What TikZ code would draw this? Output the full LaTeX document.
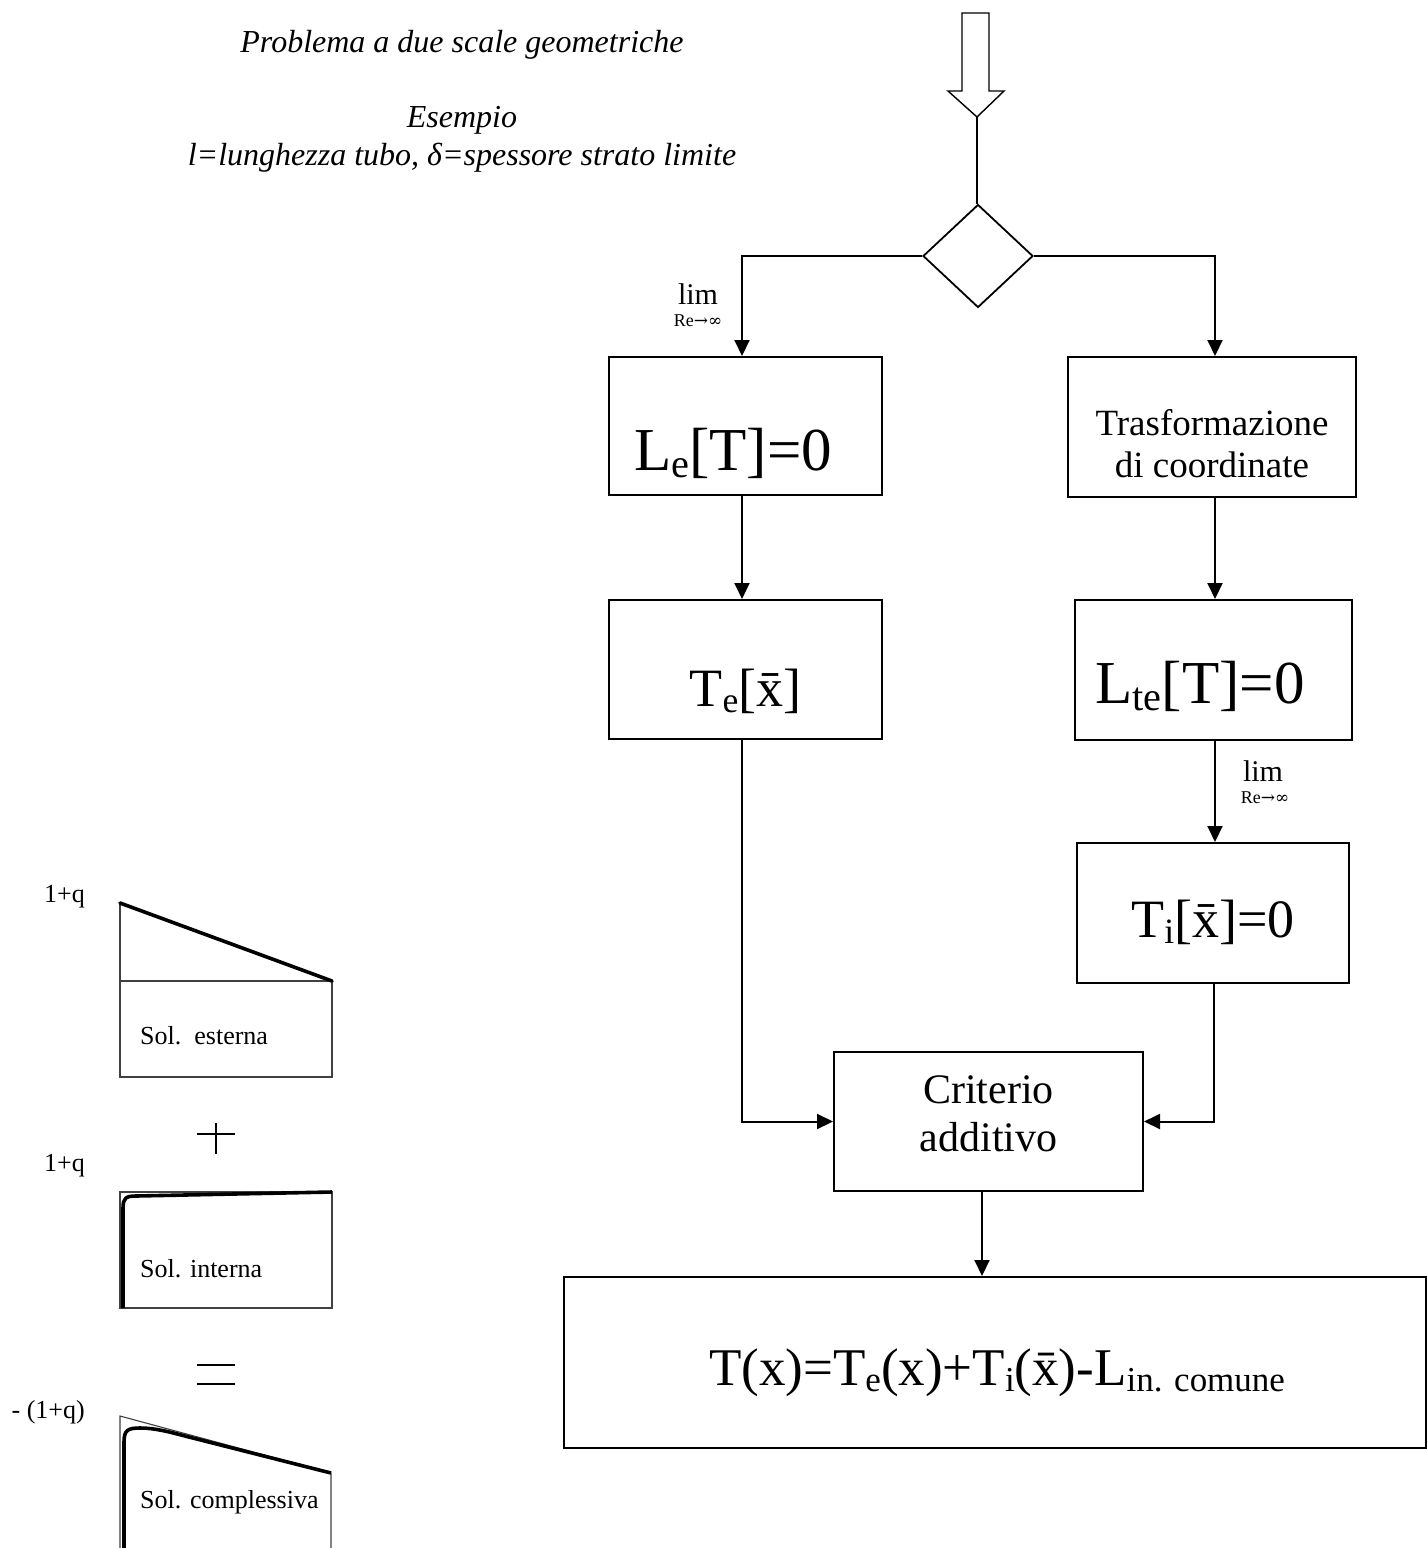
\documentclass[tikz,border=0pt]{standalone}
\usepackage{fontspec}
\setmainfont{Liberation Serif}
\newfontfamily\symfont{DejaVu Serif}
\usetikzlibrary{shapes.geometric,arrows.meta}
\newcommand\fs[1]{\fontsize{#1}{#1}\selectfont}
\newcommand\lowsub[1]{\raisebox{-0.12em}{\scalebox{0.66}{#1}}}
\tikzset{
  conn/.style={line width=2pt},
  arr/.style={line width=2pt,-{Triangle[width=15pt,length=16pt]}},
  boxnode/.style={draw,line width=2pt,inner sep=0pt},
  txt/.style={anchor=base,inner sep=0pt},
  thinline/.style={line width=1.1pt,draw=black!75},
  thickline/.style={line width=3.6pt,line cap=round,line join=round},
}
\begin{document}
\begin{tikzpicture}[x=1pt,y=-1pt]
\useasboundingbox[fill=white] (0,0) rectangle (1427,1548);

% titles
\node[txt,font=\itshape\fs{32}] (title) at (462,52) {Problema a due scale geometriche};
\node[txt,font=\itshape\fs{32}] (es1) at (462,127) {Esempio};
\node[txt,font=\itshape\fs{32}] (es2) at (462,165) {l=lunghezza tubo, δ=spessore strato limite};

% hollow arrow
\draw[line width=1.4pt,fill=white] (962,13) -- (989,13) -- (989,91) -- (1004,91) -- (977,117) -- (948,91) -- (962,91) -- cycle;
\coordinate (tip) at (977,117);

% diamond
\node[diamond,draw,line width=1.8pt,minimum width=110pt,minimum height=103pt,inner sep=0pt] (d) at (978,256) {};
\draw[conn] (tip) -- (tip |- d.north);

% boxes
\node[boxnode,minimum width=273pt,minimum height=138pt] (le) at (745.5,426) {};
\node[boxnode,minimum width=288pt,minimum height=140pt] (tr) at (1212,427) {};
\node[boxnode,minimum width=273pt,minimum height=139pt] (te) at (745.5,669.5) {};
\node[boxnode,minimum width=277pt,minimum height=140pt] (lte) at (1213.5,670) {};
\node[boxnode,minimum width=272pt,minimum height=140pt] (ti) at (1213,913) {};
\node[boxnode,minimum width=309pt,minimum height=139pt] (crit) at (988.5,1121.5) {};
\node[boxnode,minimum width=862pt,minimum height=171pt] (big) at (994.5,1362.5) {};

% box texts
\node[txt,font=\fs{61}] (leT) at (733,470) {L\lowsub{e}[T]=0};
\node[txt,font=\fs{37}] (trT1) at (1212,435) {Trasformazione};
\node[txt,font=\fs{37}] (trT2) at (1212,477) {di coordinate};
\node[txt,font=\fs{54}] (teT) at (745.5,706) {T\lowsub{e}[\={x}]};
\node[txt,font=\fs{61}] (lteT) at (1200,703) {L\lowsub{te}[T]=0};
\node[txt,font=\fs{54}] (tiT) at (1213,937) {T\lowsub{i}[\={x}]=0};
\node[txt,font=\fs{42}] (critT1) at (988.5,1103) {Criterio};
\node[txt,font=\fs{42}] (critT2) at (988.5,1151) {additivo};
\node[txt,font=\fs{53}] (bigT) at (997,1385) {T(x)=T\lowsub{e}(x)+T\lowsub{i}(\={x})-L\lowsub{in. comune}};

% lim labels
\node[txt,font=\fs{30}] (lim1) at (698,304) {lim};
\node[txt,font=\fs{18}] (re1) at (698,326) {Re{\symfont\fs{17}→∞}};
\node[txt,font=\fs{30}] (lim2) at (1263,781) {lim};
\node[txt,font=\fs{18}] (re2) at (1265,803) {Re{\symfont\fs{17}→∞}};

% connectors
\draw[arr] (d.west) -| ([xshift=-3.5pt]le.north);
\draw[arr] (d.east) -| ([xshift=3pt]tr.north);
\draw[arr] ([xshift=-3.5pt]le.south) -- ([xshift=-3.5pt]te.north);
\draw[arr] ([xshift=3pt]tr.south) -- ([xshift=3pt]tr.south |- lte.north);
\draw[arr] ([xshift=1.5pt]lte.south) -- ([xshift=1.5pt]lte.south |- ti.north);
\draw[arr] ([xshift=-3.5pt]te.south) |- (crit.west);
\draw[arr] ([xshift=1pt]ti.south) |- (crit.east);
\draw[arr] ([xshift=-6.5pt]crit.south) -- ([xshift=-6.5pt]crit.south |- big.north);

% plot 1: Sol. esterna
\draw[thinline] (120,903) -- (120,1077) -- (332,1077) -- (332,981);
\draw[thinline] (120,981) -- (332,981);
\draw[thickline] (120,903) -- (332,981);
\node[txt,anchor=base east,font=\fs{26}] (q1) at (85,902) {1+q};
\node[txt,anchor=base west,font=\fs{26}] (s1) at (140,1044) {Sol.\ \ esterna};

% plus sign
\draw[line width=1.6pt] (197,1134) -- (235,1134);
\draw[line width=1.6pt] (216,1123) -- (216,1154);

% plot 2: Sol. interna
\draw[thinline] (120,1192) rectangle (332,1308);
\draw[thickline,line cap=butt] (123,1308) -- (123,1208) .. controls (123,1198) and (126,1196) .. (136,1196) -- (332,1192);
\node[txt,anchor=base east,font=\fs{26}] (q2) at (85,1171) {1+q};
\node[txt,anchor=base west,font=\fs{26}] (s2) at (140,1277) {Sol. interna};

% equals sign
\draw[line width=1.6pt] (197,1365) -- (235,1365);
\draw[line width=1.6pt] (197,1384) -- (235,1384);

% plot 3: Sol. complessiva
\draw[thinline] (120,1548) -- (120,1416) -- (331,1473) -- (331,1548);
\draw[thickline,line cap=butt] (124,1548) -- (124,1442) .. controls (124,1430) and (128,1428) .. (140,1428) .. controls (155,1428) and (170,1432) .. (185,1436) -- (331,1473);
\node[txt,anchor=base east,font=\fs{26}] (q3) at (85,1418) {- (1+q)};
\node[txt,anchor=base west,font=\fs{26}] (s3) at (140,1508) {Sol. complessiva};
\end{tikzpicture}
\end{document}
